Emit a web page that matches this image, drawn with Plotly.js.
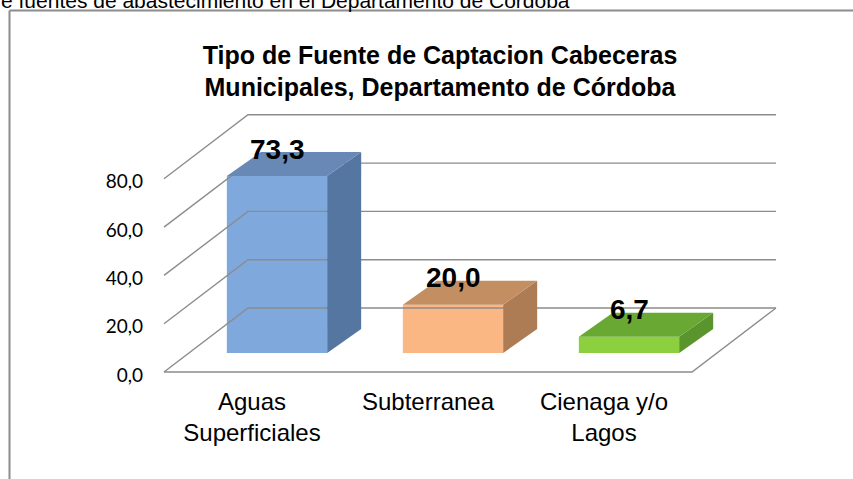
<!DOCTYPE html>
<html>
<head>
<meta charset="utf-8">
<script src="https://cdn.plot.ly/plotly-3.0.1.min.js"></script>
<style>
  html, body { margin: 0; padding: 0; background: #fff; }
  #chart { width: 853px; height: 479px; }
</style>
</head>
<body>
<div id="chart"></div>
<script>
// Chart data
const categories = ['Aguas<br>Superficiales', 'Subterranea', 'Cienaga y/o<br>Lagos'];
const values = [73.3, 20.0, 6.7];
const tickVals = [0, 20, 40, 60, 80];
const titleLines = ['Tipo de Fuente de Captacion Cabeceras', 'Municipales, Departamento de Córdoba'];

// Face colours of each bar (front, top, side)
const frontColors = ['#7fa8dd', '#fbb783', '#8ccf3f'];
const topColors = ['#6888b6', '#c28e62', '#6aa834'];
const sideColors = ['#5676a2', '#ad7c55', '#5a942c'];

// Plot area in pixels and the scale of the bar plane
const W = 853, H = 479;
const M = { l: 148, r: 53, t: 100, b: 99 };
const plotW = W - M.l - M.r, plotH = H - M.t - M.b;
const pxPerX = 176;     // px per category
const pxPerY = 2.415;   // px per value unit
const x0px = 277, y0px = 353; // where category 0 / value 0 sit on the bar plane

const xRange = [(M.l - x0px) / pxPerX, (W - M.r - x0px) / pxPerX];
const yRange = [(y0px - (H - M.b)) / pxPerY, (y0px - M.t) / pxPerY];

// depth offsets (px -> data units): floor front edge, bar back, back wall
const depth = (dxPx, dyPx) => ({ dx: dxPx / pxPerX, dy: dyPx / pxPerY });
const floorFront = depth(-25, -19);
const barBack = depth(34, 24);
const backWall = depth(59, 45);
const barW = 0.57;

// helpers for paper coordinates from pixels
const px2paperX = px => (px - M.l) / plotW;
const px2paperY = py => (H - M.b - py) / plotH;

const fmt = v => v.toFixed(1).replace('.', ',');

const traces = [];

// grid: diagonal on the left wall, then horizontal on the back wall
const gx = [], gy = [];
tickVals.forEach(t => {
  gx.push(-0.5 + floorFront.dx, -0.5 + backWall.dx, 2.5 + backWall.dx, null);
  gy.push(t + floorFront.dy, t + backWall.dy, t + backWall.dy, null);
});
// floor front and right edges
gx.push(-0.5 + floorFront.dx, 2.5 + floorFront.dx, 2.5 + backWall.dx);
gy.push(floorFront.dy, floorFront.dy, backWall.dy);
traces.push({
  type: 'scatter', mode: 'lines', x: gx, y: gy,
  line: { color: '#8c8c8c', width: 1.4 },
  hoverinfo: 'skip', showlegend: false
});

// side and top faces of each bar
values.forEach((v, i) => {
  const xl = i - barW / 2, xr = i + barW / 2;
  traces.push({
    type: 'scatter', mode: 'lines', fill: 'toself',
    x: [xr, xr + barBack.dx, xr + barBack.dx, xr, xr],
    y: [0, barBack.dy, v + barBack.dy, v, 0],
    fillcolor: sideColors[i], line: { width: 0, color: sideColors[i] },
    hoverinfo: 'skip', showlegend: false
  });
  traces.push({
    type: 'scatter', mode: 'lines', fill: 'toself',
    x: [xl, xr, xr + barBack.dx, xl + barBack.dx, xl],
    y: [v, v, v + barBack.dy, v + barBack.dy, v],
    fillcolor: topColors[i], line: { width: 0, color: topColors[i] },
    hoverinfo: 'skip', showlegend: false
  });
});

// front faces
traces.push({
  type: 'bar', x: values.map((v, i) => i), y: values, width: barW,
  marker: { color: frontColors, line: { width: 0 } },
  hoverinfo: 'skip', showlegend: false
});

// empty trace so the shifted label axes get drawn
traces.push({
  type: 'scatter', mode: 'markers', x: [], y: [], xaxis: 'x2', yaxis: 'y2',
  hoverinfo: 'skip', showlegend: false
});

const annotations = values.map((v, i) => ({
  xref: 'x', yref: 'y', x: i, y: v + barBack.dy + 1.2,
  text: '<b>' + fmt(v) + '</b>', showarrow: false,
  xanchor: 'center', yanchor: 'middle',
  font: { family: 'Liberation Sans, Arial, sans-serif', size: 28, color: '#000' }
}));

annotations.push({
  xref: 'paper', yref: 'paper', x: px2paperX(-1), y: px2paperY(1),
  xanchor: 'left', yanchor: 'middle', showarrow: false,
  text: 'e fuentes de abastecimiento en el Departamento de Córdoba',
  font: { family: 'Liberation Sans, Arial, sans-serif', size: 21, color: '#000' }
});

const layout = {
  width: W, height: H,
  margin: M,
  paper_bgcolor: '#fff', plot_bgcolor: 'rgba(0,0,0,0)',
  separators: ',.',
  hovermode: false,
  showlegend: false,
  title: {
    text: '<b>' + titleLines.join('<br>') + '</b>',
    xref: 'container', yref: 'container',
    x: 440 / W, xanchor: 'center',
    y: 1 - 63.5 / H, yanchor: 'middle',
    font: { family: 'Liberation Sans, Arial, sans-serif', size: 25, color: '#000' }
  },
  xaxis: {
    range: xRange, visible: false, fixedrange: true
  },
  yaxis: {
    range: yRange, visible: false, fixedrange: true
  },
  // label axes shifted onto the front edge of the floor
  xaxis2: {
    overlaying: 'x', anchor: 'y2', side: 'bottom',
    range: [xRange[0] - floorFront.dx, xRange[1] - floorFront.dx],
    tickvals: [0, 1, 2], ticktext: categories,
    showgrid: false, zeroline: false, showline: false, ticks: '',
    ticklabelstandoff: 5,
    tickfont: { family: 'Liberation Sans, Arial, sans-serif', size: 24, color: '#000' }
  },
  yaxis2: {
    overlaying: 'y', anchor: 'x2', side: 'left',
    range: [yRange[0] - floorFront.dy + 1.2, yRange[1] - floorFront.dy + 1.2],
    tickvals: tickVals, tickformat: '.1f',
    showgrid: false, zeroline: false, showline: false, ticks: '',
    ticklabelstandoff: 4,
    tickfont: { family: 'Lato, sans-serif', size: 19, color: '#000' }
  },
  shapes: [
    {
      type: 'line', xref: 'paper', yref: 'paper',
      x0: px2paperX(9.5), x1: px2paperX(W + 5), y0: px2paperY(10.5), y1: px2paperY(10.5),
      line: { color: '#8c8c8c', width: 2 }
    },
    {
      type: 'line', xref: 'paper', yref: 'paper',
      x0: px2paperX(9.5), x1: px2paperX(9.5), y0: px2paperY(10.5), y1: px2paperY(H + 5),
      line: { color: '#8c8c8c', width: 2 }
    }
  ],
  annotations: annotations
};

Plotly.newPlot('chart', traces, layout, { displayModeBar: false, staticPlot: true });
</script>
</body>
</html>
